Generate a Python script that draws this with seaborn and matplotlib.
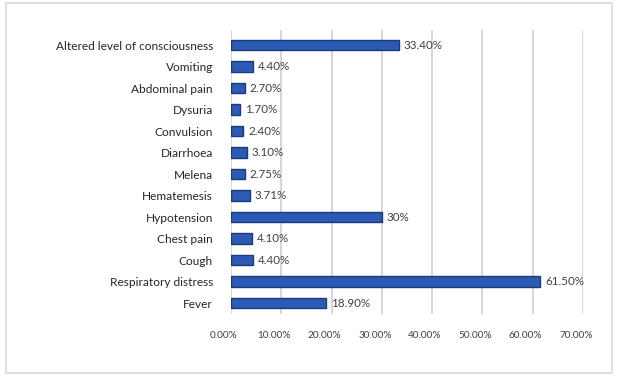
import matplotlib
matplotlib.use("Agg")
import matplotlib.pyplot as plt
from matplotlib.patches import Rectangle
from matplotlib.transforms import ScaledTranslation
import seaborn as sns
import pandas as pd

categories = ["Altered level of consciousness", "Vomiting", "Abdominal pain", "Dysuria",
              "Convulsion", "Diarrhoea", "Melena", "Hematemesis", "Hypotension",
              "Chest pain", "Cough", "Respiratory distress", "Fever"]
values = [33.40, 4.40, 2.70, 1.70, 2.40, 3.10, 2.75, 3.71, 30.0, 4.10, 4.40, 61.50, 18.90]
value_labels = ["33.40%", "4.40%", "2.70%", "1.70%", "2.40%", "3.10%", "2.75%", "3.71%",
                "30%", "4.10%", "4.40%", "61.50%", "18.90%"]
xticks = [0, 10, 20, 30, 40, 50, 60, 70]
xtick_labels = ["0.00%", "10.00%", "20.00%", "30.00%", "40.00%", "50.00%", "60.00%", "70.00%"]

df = pd.DataFrame({"Symptom": categories, "Percent": values})

sns.set_theme(style="white")
plt.rcParams["font.family"] = ["Lato", "DejaVu Sans"]

W, H = 619, 376
fig = plt.figure(figsize=(W / 100, H / 100), dpi=100)
ax = fig.add_axes([231 / W, 1 - 314 / H, (583 - 231) / W, (314 - 30) / H])

sns.barplot(data=df, y="Symptom", x="Percent", orient="h", ax=ax,
            color="#2D5AB4", edgecolor="#1B3A7A", linewidth=1.0, width=0.48,
            saturation=1)

ax.set_xlim(0, 70)
ax.set_ylim(12.51, -0.70)
ax.set_xticks(xticks)
ax.set_xticklabels(xtick_labels, fontsize=7.2, color="#404040")
ax.tick_params(axis="y", labelsize=8.6, labelcolor="#262626", length=0, pad=13)
ax.tick_params(axis="x", length=0, pad=12)
ax.set_xlabel("")
ax.set_ylabel("")
ax.grid(axis="x", color="#D6D6D6", linewidth=1.4)
ax.set_axisbelow(True)
for s in ax.spines.values():
    s.set_visible(False)

shift = ScaledTranslation(-7 / 100, 0, fig.dpi_scale_trans)
for lab in ax.get_xticklabels():
    lab.set_transform(lab.get_transform() + shift)

for i, (v, lab) in enumerate(zip(values, value_labels)):
    ax.text(v + 1.0, i, lab, va="center", ha="left", fontsize=8.4, color="#404040")

fig.patches.append(Rectangle((6 / W, 1 - 373 / H), (612 - 6) / W, (373 - 3) / H,
                             transform=fig.transFigure, fill=False,
                             edgecolor="#D9D9D9", linewidth=1.2))

fig.savefig("out.png", dpi=100)
